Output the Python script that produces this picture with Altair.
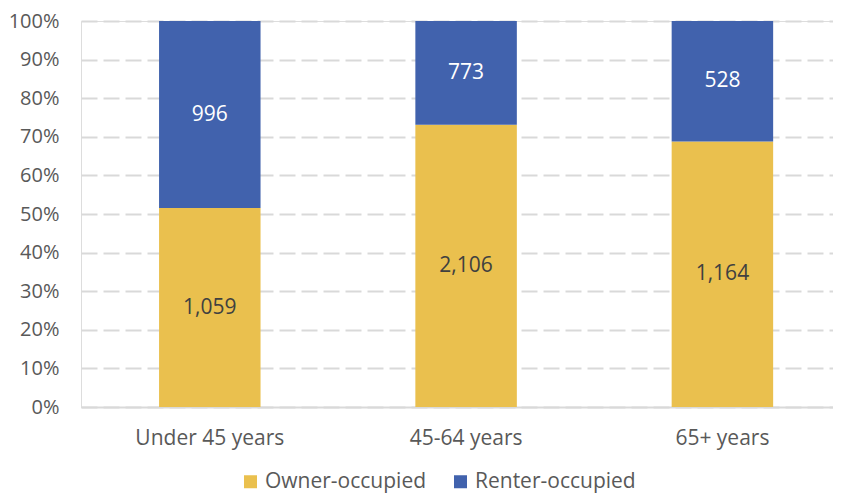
import altair as alt
import pandas as pd

groups = ["Under 45 years", "45-64 years", "65+ years"]
owner = [1059, 2106, 1164]
renter = [996, 773, 528]
series = ["Owner-occupied", "Renter-occupied"]
colors = ["#EAC04E", "#4162AD"]
ticks = [0, 0.1, 0.2, 0.3, 0.4, 0.5, 0.6, 0.7, 0.8, 0.9, 1.0]

rows = []
for g, o, r in zip(groups, owner, renter):
    rows.append({"group": g, "tenure": series[0], "count": o, "order": 0})
    rows.append({"group": g, "tenure": series[1], "count": r, "order": 1})
df = pd.DataFrame(rows)

FONT = "Open Sans"
FS = 21

xaxis = alt.Axis(labelAngle=0, labelFontSize=FS, labelColor="#595959", labelFont=FONT,
                 labelPadding=20, ticks=False, domain=True, domainColor="#D9D9D9",
                 domainWidth=2, grid=False)
yaxis = alt.Axis(format=".0%", values=ticks, labelFontSize=20, labelOverlap=False,
                 labelColor="#595959", labelFont=FONT, labelPadding=22, ticks=False,
                 domain=False, gridColor="#D9D9D9", gridWidth=2, gridDash=[16, 6])
xscale = alt.Scale(paddingInner=0.604, paddingOuter=0.269, align=0.566)
yscale = alt.Scale(domain=[0, 1], nice=False)

base = alt.Chart(df).transform_stack(
    stack="count", groupby=["group"], as_=["y0", "y1"], offset="normalize",
    sort=[alt.SortField("order", "ascending")]
).transform_calculate(
    mid="(datum.y0 + datum.y1) / 2",
    label="format(datum.count, ',')"
)

bars = base.mark_bar().encode(
    x=alt.X("group:N", sort=groups, title=None, scale=xscale, axis=xaxis),
    y=alt.Y("y0:Q", title=None, scale=yscale, axis=yaxis),
    y2="y1:Q",
    color=alt.Color("tenure:N", scale=alt.Scale(domain=series, range=colors),
                    legend=alt.Legend(title=None, orient="none", legendX=159, legendY=450,
                                      direction="horizontal", symbolType="square",
                                      symbolSize=169, symbolStrokeWidth=0, labelFontSize=FS,
                                      labelColor="#595959", labelFont=FONT, columnPadding=23,
                                      symbolOffset=0, labelOffset=4, labelLimit=400)),
)

labels = base.mark_text(fontSize=FS, font=FONT).encode(
    x=alt.X("group:N", sort=groups, title=None, scale=xscale, axis=xaxis),
    y=alt.Y("mid:Q", title=None, scale=yscale, axis=yaxis),
    text="label:N",
    color=alt.Color("tenure:N", scale=alt.Scale(domain=series, range=["#404040", "#FFFFFF"]),
                    legend=None),
)

chart = alt.layer(bars, labels).resolve_scale(color="independent").properties(
    width=752, height=386,
    autosize=alt.AutoSizeParams(type="none"),
    padding={"left": 73, "top": 13, "right": 0, "bottom": 88},
).configure_view(stroke=None).configure(background="white")

chart.save("out.html", embed_options={"renderer": "svg", "actions": False})
